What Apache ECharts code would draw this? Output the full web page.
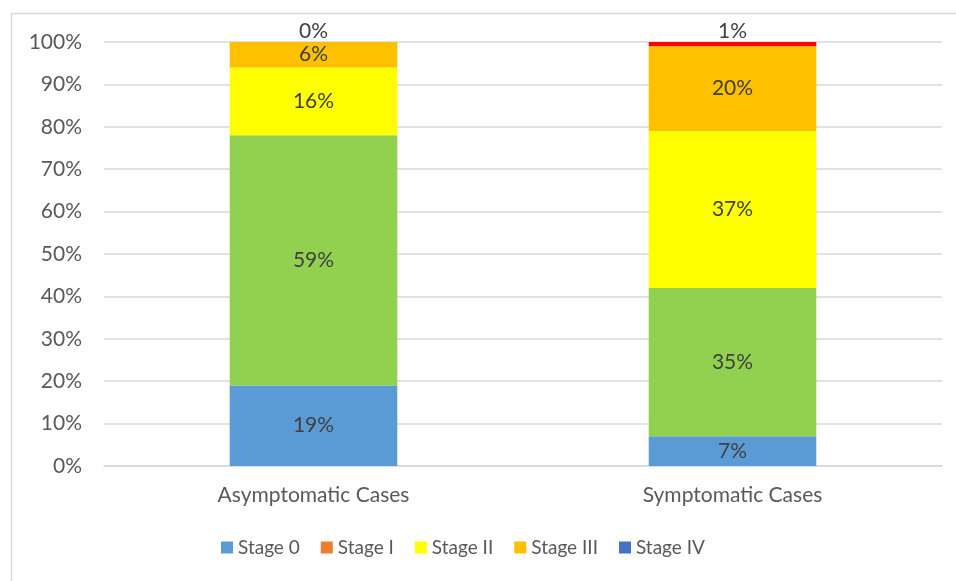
<!DOCTYPE html>
<html>
<head>
<meta charset="utf-8">
<script src="https://cdn.jsdelivr.net/npm/echarts@6/dist/echarts.min.js"></script>
<style>
  html, body { margin: 0; padding: 0; background: #fff; }
  #chart { width: 956px; height: 581px; }
</style>
</head>
<body>
<div id="chart"></div>
<script>
const categories = ['Asymptomatic Cases', 'Symptomatic Cases'];
const stageNames = ['Stage 0', 'Stage I', 'Stage II', 'Stage III', 'Stage IV'];
const stage0 = [19, 7];
const stage1 = [59, 35];
const stage2 = [16, 37];
const stage3 = [6, 20];
const stage4 = [0, 1];
const yTicks = [0, 10, 20, 30, 40, 50, 60, 70, 80, 90, 100];

// bars and legend swatches don't use the same colours in the original
const barColors = ['#5B9BD5', '#92D050', '#FFFF00', '#FFC000', '#FF0000'];
const legendColors = ['#5B9BD5', '#ED7D31', '#FFFF00', '#FFC000', '#4472C4'];

const font = 'Lato, "Open Sans", sans-serif';
const seriesData = [stage0, stage1, stage2, stage3, stage4];

const chart = echarts.init(document.getElementById('chart'), null, { renderer: 'canvas' });

const series = stageNames.map((name, i) => ({
  name: name,
  type: 'bar',
  stack: 'total',
  barWidth: '40%',
  data: seriesData[i],
  itemStyle: { color: barColors[i] },
  label: {
    show: true,
    position: i === 4 ? 'top' : 'inside',
    distance: 0,
    formatter: p => p.value + '%',
    color: '#404040',
    fontFamily: font,
    fontSize: 21
  }
}));

chart.setOption({
  animation: false,
  graphic: [{
    type: 'rect',
    shape: { x: 11.5, y: 13.5, width: 1000, height: 1000 },
    style: { fill: 'none', stroke: '#d9d9d9', lineWidth: 1.5 },
    silent: true
  }],
  grid: { left: 104, right: 14, top: 42, bottom: 115 },
  legend: {
    bottom: 19,
    left: 216,
    icon: 'rect',
    itemWidth: 12,
    itemHeight: 12,
    itemGap: 21,
    textStyle: { color: '#595959', fontFamily: font, fontSize: 19 },
    data: stageNames.map((n, i) => ({ name: n, itemStyle: { color: legendColors[i] } }))
  },
  xAxis: {
    type: 'category',
    data: categories,
    axisLine: { lineStyle: { color: '#d9d9d9', width: 1.5 } },
    axisTick: { show: false },
    axisLabel: { color: '#595959', fontFamily: font, fontSize: 21, margin: 19 }
  },
  yAxis: {
    type: 'value',
    min: yTicks[0],
    max: yTicks[yTicks.length - 1],
    interval: 10,
    axisLine: { show: false },
    axisTick: { show: false },
    splitLine: { lineStyle: { color: '#d9d9d9', width: 1.5 } },
    axisLabel: { color: '#595959', fontFamily: font, fontSize: 21, margin: 22, formatter: '{value}%' }
  },
  series: series
});
</script>
</body>
</html>
